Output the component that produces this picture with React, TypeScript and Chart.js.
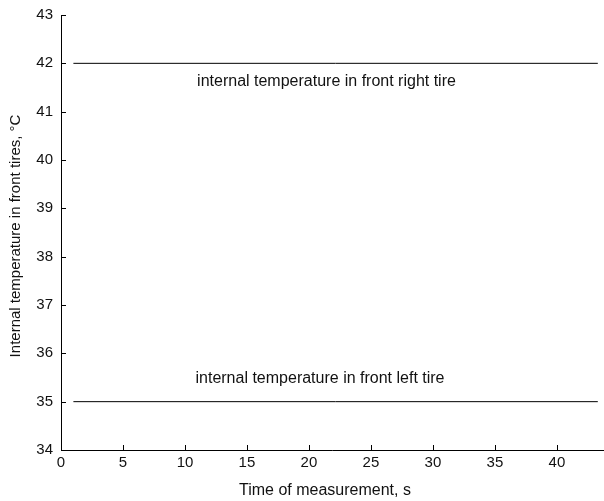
import React, { useEffect, useRef } from "react";
import { Chart, registerables } from "chart.js";

Chart.register(...registerables);

const rightTireX = [1, 43.3];
const rightTireY = [42, 42];
const leftTireX = [1, 43.3];
const leftTireY = [35, 35];
const xTicks = [0, 5, 10, 15, 20, 25, 30, 35, 40];
const yTicks = [34, 35, 36, 37, 38, 39, 40, 41, 42, 43];
const labelRight = "internal temperature in front right tire";
const labelLeft = "internal temperature in front left tire";
const xTitle = "Time of measurement, s";
const yTitle = "Internal temperature in front tires, \u00B0C";

const FAM = "'Liberation Sans', Arial, sans-serif";

const drawPlugin = {
  id: "matlabDecor",
  afterDraw(chart: any) {
    const { ctx, chartArea, scales } = chart;
    const xs = scales.x;
    const ys = scales.y;
    ctx.save();
    ctx.strokeStyle = "#000";
    ctx.lineWidth = 1;
    ctx.beginPath();
    ctx.moveTo(chartArea.left + 0.5, chartArea.top);
    ctx.lineTo(chartArea.left + 0.5, chartArea.bottom + 0.5);
    ctx.lineTo(chartArea.right, chartArea.bottom + 0.5);
    for (const v of yTicks) {
      const y = Math.round(ys.getPixelForValue(v)) + 0.5;
      ctx.moveTo(chartArea.left, y);
      ctx.lineTo(chartArea.left + 5, y);
    }
    for (const v of xTicks) {
      const x = Math.round(xs.getPixelForValue(v)) + 0.5;
      ctx.moveTo(x, chartArea.bottom);
      ctx.lineTo(x, chartArea.bottom - 5);
    }
    ctx.stroke();
    ctx.fillStyle = "#111";
    ctx.font = "15px " + FAM;
    ctx.textAlign = "right";
    ctx.textBaseline = "middle";
    for (const v of yTicks) {
      ctx.fillText(String(v), chartArea.left - 8, ys.getPixelForValue(v));
    }
    ctx.textAlign = "center";
    ctx.textBaseline = "top";
    for (const v of xTicks) {
      ctx.fillText(String(v), xs.getPixelForValue(v), chartArea.bottom + 5);
    }
    ctx.textBaseline = "middle";
    ctx.font = "16px " + FAM;
    ctx.fillText(xTitle, 325, 491);
    ctx.save();
    ctx.font = "15px " + FAM;
    ctx.translate(16, 236);
    ctx.rotate(-Math.PI / 2);
    ctx.fillText(yTitle, 0, 0);
    ctx.restore();
    ctx.font = "16px " + FAM;
    ctx.fillText(labelRight, 326.5, ys.getPixelForValue(41.63));
    ctx.fillText(labelLeft, 320, ys.getPixelForValue(35.47));
    ctx.restore();
  },
};

export default function App() {
  const ref = useRef<HTMLCanvasElement>(null);
  useEffect(() => {
    document.body.style.margin = "0";
    const c = ref.current!;
    const chart = new Chart(c, {
      type: "scatter",
      data: {
        datasets: [
          {
            data: rightTireX.map((x, i) => ({ x, y: rightTireY[i] })),
            showLine: true,
            borderColor: "#000",
            borderWidth: 1,
            pointRadius: 0,
          },
          {
            data: leftTireX.map((x, i) => ({ x, y: leftTireY[i] })),
            showLine: true,
            borderColor: "#000",
            borderWidth: 1,
            pointRadius: 0,
          },
        ],
      },
      options: {
        animation: false,
        responsive: false,
        layout: { padding: { top: 15, right: 0, left: 0, bottom: 0 } },
        plugins: { legend: { display: false }, tooltip: { enabled: false } },
        scales: {
          x: {
            type: "linear",
            min: 0,
            max: 43.8,
            grid: { display: false },
            border: { display: false },
            ticks: { display: false },
            afterFit: (s: any) => {
              s.height = 51;
            },
          },
          y: {
            type: "linear",
            min: 34,
            max: 43,
            grid: { display: false },
            border: { display: false },
            ticks: { display: false },
            afterFit: (s: any) => {
              s.width = 61;
            },
          },
        },
      },
      plugins: [drawPlugin],
    });
    return () => chart.destroy();
  }, []);
  return (
    <div style={{ position: "absolute", left: 0, top: 0, width: 604, height: 501, background: "#fff" }}>
      <canvas ref={ref} width={604} height={501} />
    </div>
  );
}
